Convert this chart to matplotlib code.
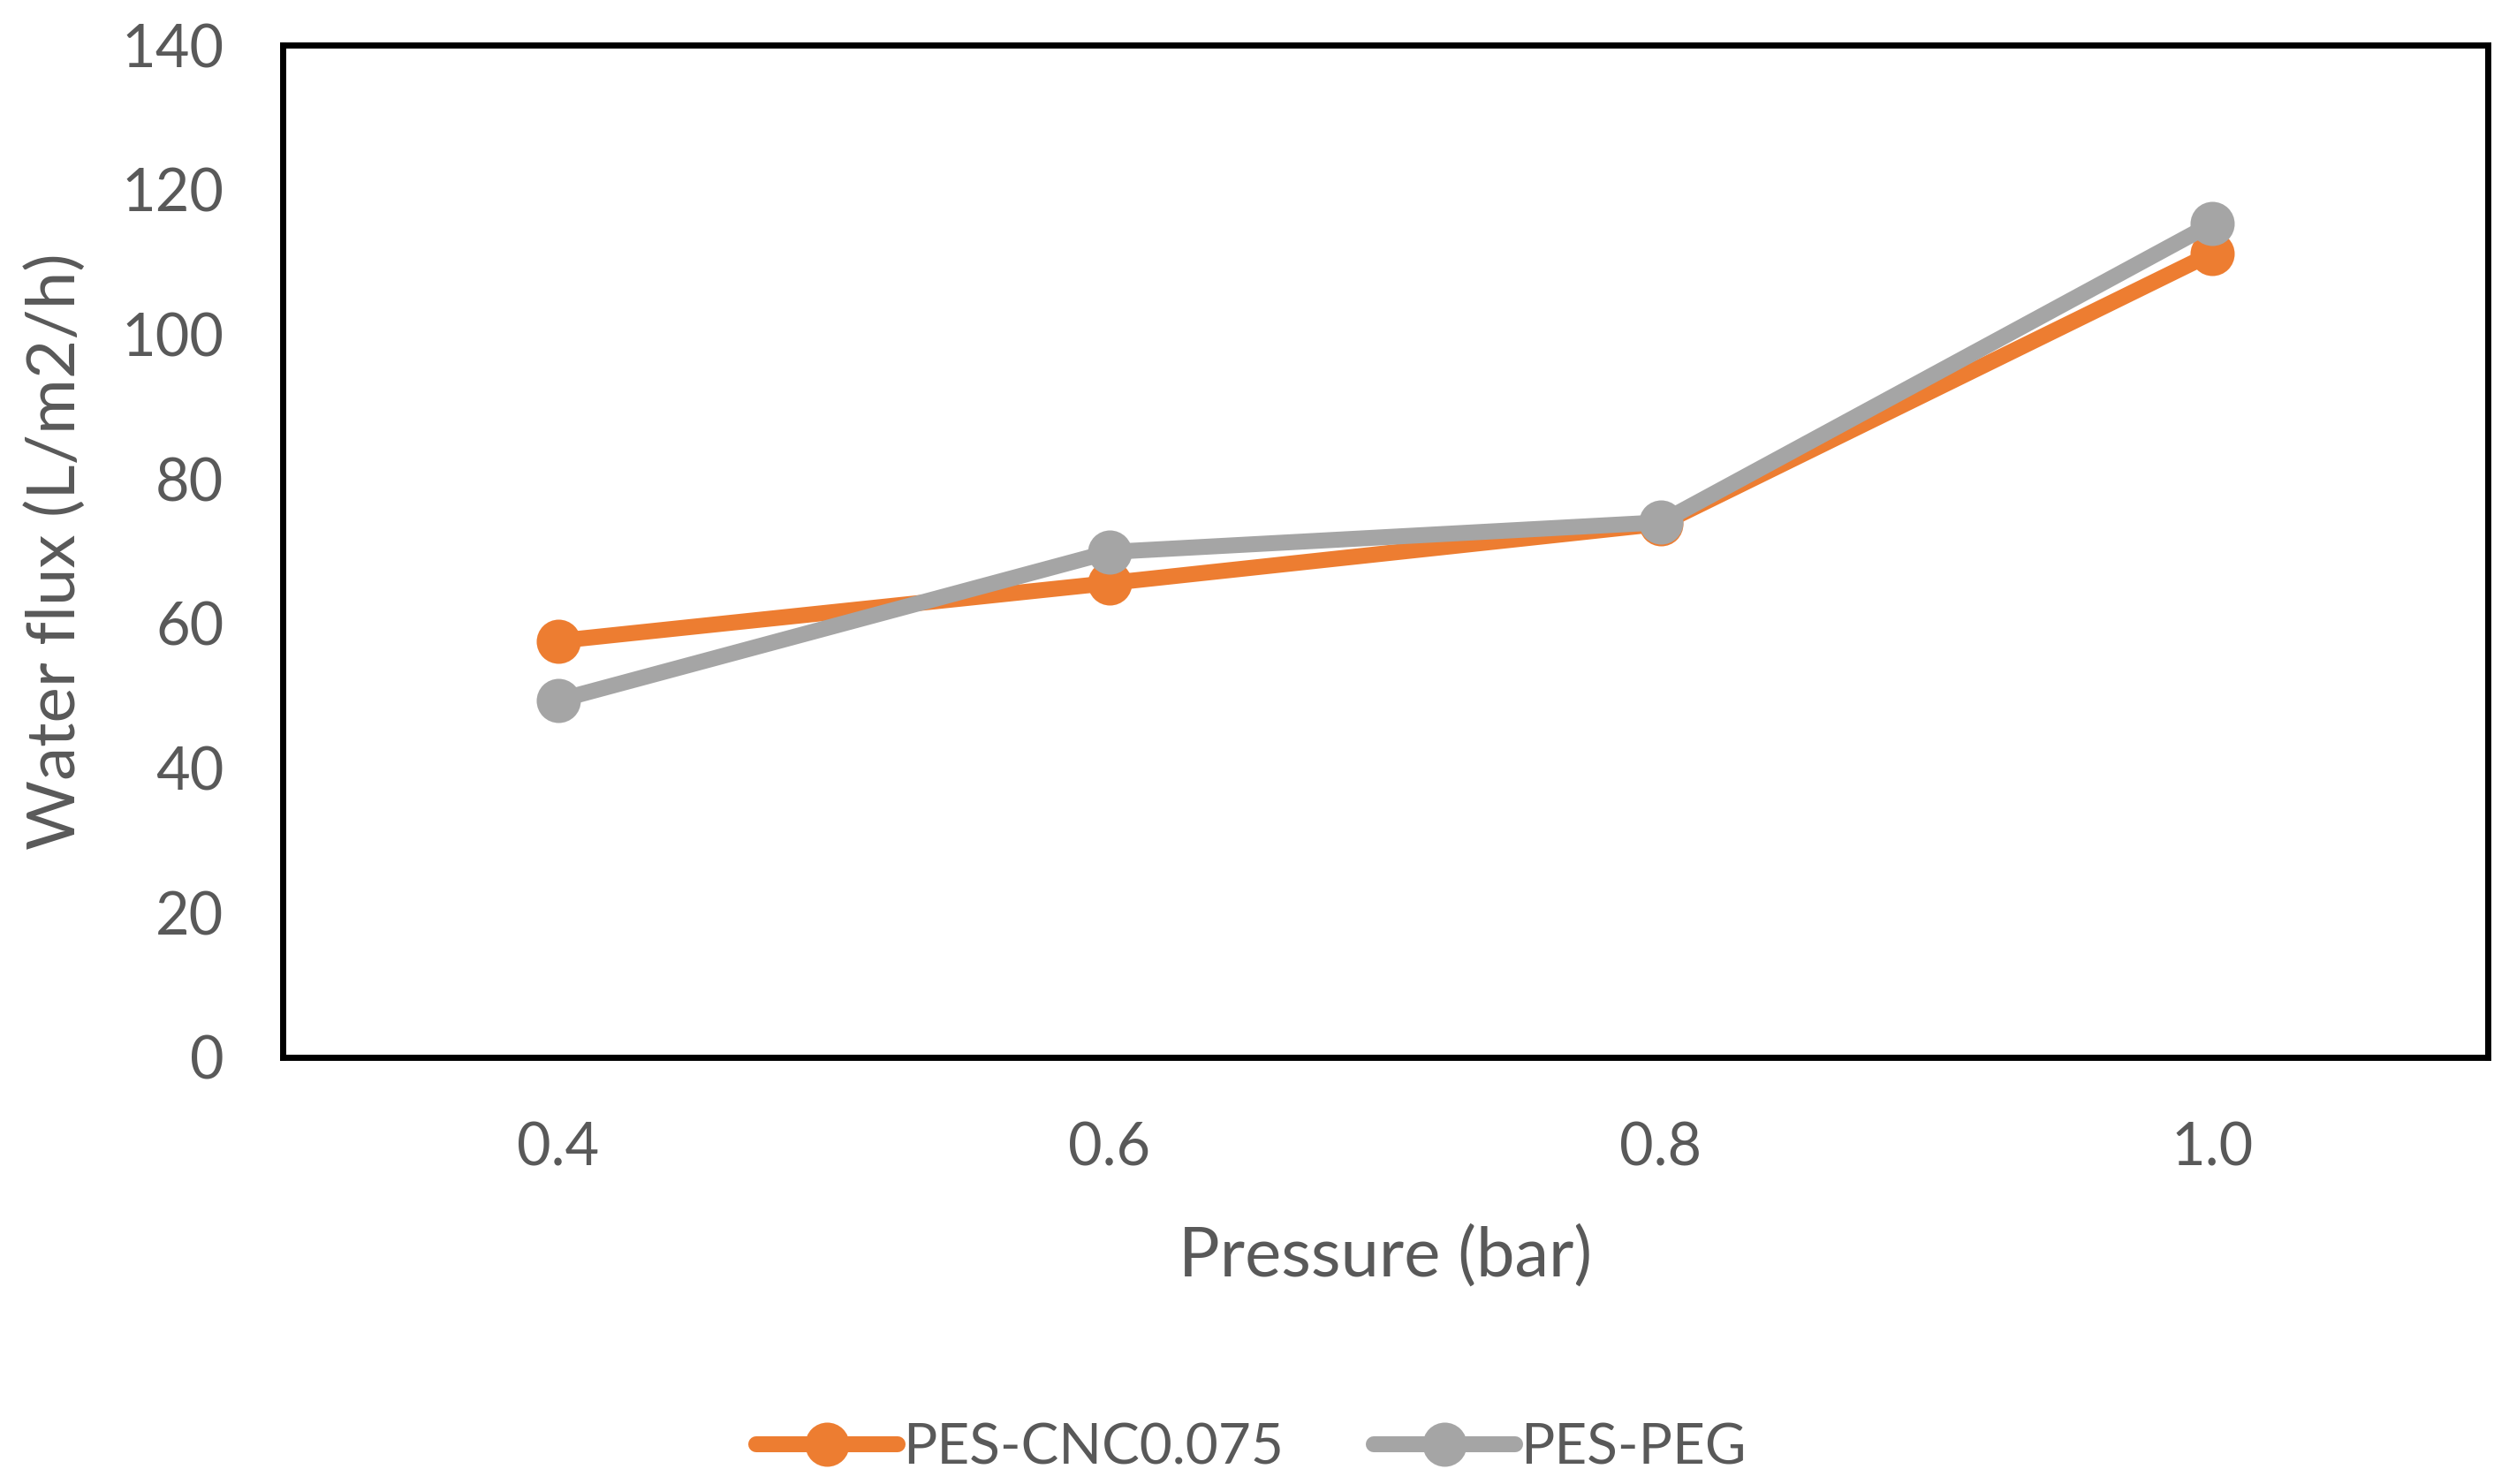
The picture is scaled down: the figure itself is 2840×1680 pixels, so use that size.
import numpy as np
import matplotlib.pyplot as plt

plt.rcParams['font.family'] = ['Lato', 'DejaVu Sans']

# Data
pressure = ["0.4", "0.6", "0.8", "1.0"]
flux_cnc = [57.6, 65.6, 73.8, 111.2]
flux_peg = [49.4, 69.9, 74.0, 115.3]
labels = ["PES-CNC0.075", "PES-PEG"]

text_col = "#595959"
orange = "#ED7D31"
grey = "#A5A5A5"

fig = plt.figure(figsize=(14.2, 8.4), dpi=200)
ax = fig.add_axes([0.1127, 0.2875, 0.9915 - 0.1127, 0.9696 - 0.2875])

x = np.arange(len(pressure))
ax.plot(x, flux_cnc, color=orange, lw=6.5, marker="o", ms=17, label=labels[0],
        solid_joinstyle="round", solid_capstyle="round")
ax.plot(x, flux_peg, color=grey, lw=6.5, marker="o", ms=17, label=labels[1],
        solid_joinstyle="round", solid_capstyle="round")

ax.set_xlim(-0.5, len(pressure) - 0.5)
ax.set_ylim(0, 140)
ax.set_yticks(np.arange(0, 141, 20))
ax.set_xticks(x)
ax.set_xticklabels(pressure)

for s in ax.spines.values():
    s.set_color("black")
    s.set_linewidth(2.5)

ax.tick_params(axis="both", length=0, labelsize=24, labelcolor=text_col)
ax.tick_params(axis="y", pad=24)
ax.tick_params(axis="x", pad=26)

ax.set_xlabel("Pressure (bar)", fontsize=28, color=text_col, labelpad=20)
ax.set_ylabel("Water flux (L/m2/h)", fontsize=27.5, color=text_col, labelpad=14)

fig.legend(loc="center", bbox_to_anchor=(0.4987, 0.0244), ncol=2, frameon=False,
           fontsize=23, labelcolor=text_col, handlelength=2.5, handletextpad=0.1,
           columnspacing=1.6)

fig.savefig("out.png", dpi=200)
